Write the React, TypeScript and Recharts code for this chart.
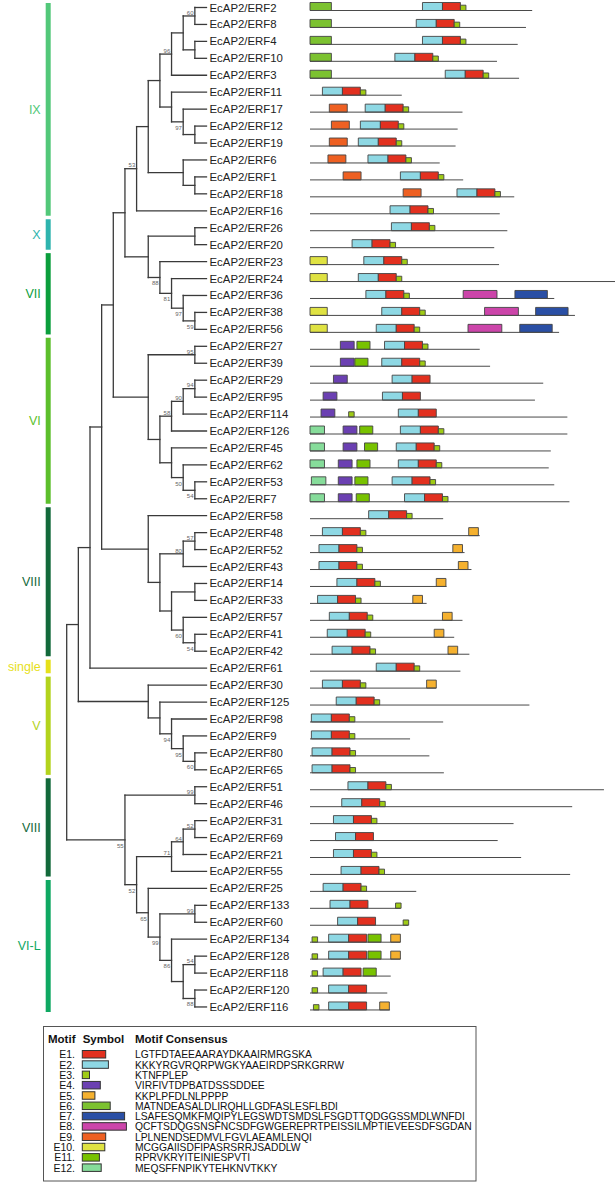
import React from 'react'
import { ComposedChart, XAxis, YAxis, ReferenceArea, ReferenceLine, Scatter } from 'recharts'

const PREFIX = 'EcAP2/'

// gene order, top to bottom
const GENES = [
  'ERF2', 'ERF8', 'ERF4', 'ERF10', 'ERF3', 'ERF11', 'ERF17', 'ERF12', 'ERF19', 'ERF6',
  'ERF1', 'ERF18', 'ERF16', 'ERF26', 'ERF20', 'ERF23', 'ERF24', 'ERF36', 'ERF38', 'ERF56',
  'ERF27', 'ERF39', 'ERF29', 'ERF95', 'ERF114', 'ERF126', 'ERF45', 'ERF62', 'ERF53', 'ERF7',
  'ERF58', 'ERF48', 'ERF52', 'ERF43', 'ERF14', 'ERF33', 'ERF57', 'ERF41', 'ERF42', 'ERF61',
  'ERF30', 'ERF125', 'ERF98', 'ERF9', 'ERF80', 'ERF65', 'ERF51', 'ERF46', 'ERF31', 'ERF69',
  'ERF21', 'ERF55', 'ERF25', 'ERF133', 'ERF60', 'ERF134', 'ERF128', 'ERF118', 'ERF120', 'ERF116',
]

// protein length (aa)
const PROTEIN_LENGTH = [
  322, 313, 301, 271, 303, 133, 221, 214, 211, 188,
  222, 296, 275, 286, 267, 274, 445, 354, 384, 361,
  246, 261, 338, 326, 373, 373, 349, 346, 354, 376,
  193, 246, 224, 234, 198, 169, 221, 209, 231, 218,
  183, 318, 193, 145, 173, 194, 426, 380, 295, 272,
  306, 377, 154, 131, 142, 131, 131, 117, 112, 116,
]

// motif hits per gene: [motif, start aa]
const MOTIF_SITES: Array<Array<[string, number]>> = [
  [['E6', 0], ['E2', 163], ['E1', 192], ['E3', 218]],
  [['E6', 0], ['E2', 154], ['E1', 183], ['E3', 209]],
  [['E6', 0], ['E2', 163], ['E1', 192], ['E3', 218]],
  [['E6', 0], ['E2', 123], ['E1', 152], ['E3', 178]],
  [['E6', 0], ['E2', 196], ['E1', 225], ['E3', 251]],
  [['E2', 18], ['E1', 47], ['E3', 73]],
  [['E9', 28], ['E2', 80], ['E1', 109], ['E3', 135]],
  [['E9', 31], ['E2', 73], ['E1', 102], ['E3', 128]],
  [['E9', 28], ['E2', 70], ['E1', 99], ['E3', 125]],
  [['E9', 26], ['E2', 84], ['E1', 113], ['E3', 139]],
  [['E9', 48], ['E2', 131], ['E1', 160], ['E3', 186]],
  [['E9', 135], ['E2', 213], ['E1', 242], ['E3', 268]],
  [['E2', 116], ['E1', 145], ['E3', 171]],
  [['E2', 118], ['E1', 147], ['E3', 173]],
  [['E2', 61], ['E1', 90], ['E3', 116]],
  [['E10', 0], ['E2', 78], ['E1', 107], ['E3', 133]],
  [['E10', 0], ['E2', 70], ['E1', 99], ['E3', 125]],
  [['E2', 81], ['E1', 110], ['E3', 136], ['E8', 222], ['E7', 297]],
  [['E10', 0], ['E2', 104], ['E1', 133], ['E3', 159], ['E8', 253], ['E7', 327]],
  [['E10', 0], ['E2', 96], ['E1', 125], ['E3', 151], ['E8', 229], ['E7', 304]],
  [['E4', 44], ['E11', 68], ['E2', 108], ['E1', 137], ['E3', 163]],
  [['E4', 44], ['E11', 65], ['E2', 104], ['E1', 133], ['E3', 159]],
  [['E4', 34], ['E2', 119], ['E1', 148]],
  [['E4', 19], ['E2', 105], ['E1', 134]],
  [['E4', 16], ['E3', 56], ['E2', 128], ['E1', 157]],
  [['E12', 0], ['E4', 48], ['E11', 72], ['E2', 131], ['E1', 160], ['E3', 186]],
  [['E12', 0], ['E4', 48], ['E11', 79], ['E2', 125], ['E1', 154], ['E3', 180]],
  [['E12', 0], ['E4', 41], ['E11', 68], ['E2', 128], ['E1', 157], ['E3', 183]],
  [['E12', 2], ['E4', 41], ['E11', 65], ['E2', 119], ['E1', 148], ['E3', 174]],
  [['E12', 0], ['E4', 41], ['E11', 67], ['E2', 137], ['E1', 166], ['E3', 192]],
  [['E2', 85], ['E1', 114], ['E3', 140]],
  [['E2', 18], ['E1', 47], ['E3', 73], ['E5', 230]],
  [['E2', 13], ['E1', 42], ['E3', 68], ['E5', 207]],
  [['E2', 13], ['E1', 42], ['E3', 68], ['E5', 215]],
  [['E2', 39], ['E1', 68], ['E3', 94], ['E5', 183]],
  [['E2', 11], ['E1', 40], ['E3', 66], ['E5', 149]],
  [['E2', 28], ['E1', 57], ['E3', 83], ['E5', 192]],
  [['E2', 25], ['E1', 54], ['E3', 80], ['E5', 180]],
  [['E2', 32], ['E1', 61], ['E3', 87], ['E5', 200]],
  [['E2', 96], ['E1', 125], ['E3', 151]],
  [['E2', 18], ['E1', 47], ['E3', 73], ['E5', 169]],
  [['E2', 38], ['E1', 67], ['E3', 93]],
  [['E2', 2], ['E1', 31], ['E3', 57]],
  [['E2', 2], ['E1', 31], ['E3', 57]],
  [['E2', 3], ['E1', 32], ['E3', 58]],
  [['E2', 3], ['E1', 32], ['E3', 58]],
  [['E2', 55], ['E1', 84], ['E3', 110]],
  [['E2', 46], ['E1', 75], ['E3', 101]],
  [['E2', 34], ['E1', 63], ['E3', 89]],
  [['E2', 37], ['E1', 66]],
  [['E2', 34], ['E1', 63], ['E3', 89]],
  [['E2', 45], ['E1', 74], ['E3', 100]],
  [['E2', 19], ['E1', 48], ['E3', 74]],
  [['E2', 29], ['E1', 58], ['E3', 124]],
  [['E2', 40], ['E1', 69], ['E3', 135]],
  [['E3', 3], ['E2', 27], ['E1', 56], ['E11', 84], ['E5', 117]],
  [['E3', 3], ['E2', 27], ['E1', 56], ['E11', 84], ['E5', 117]],
  [['E3', 3], ['E2', 19], ['E1', 48], ['E11', 77]],
  [['E3', 3], ['E2', 27], ['E1', 56]],
  [['E3', 5], ['E2', 27], ['E1', 56], ['E5', 101]],
]

const MOTIF_IDS = ['E1', 'E2', 'E3', 'E4', 'E5', 'E6', 'E7', 'E8', 'E9', 'E10', 'E11', 'E12']
const MOTIF_CONSENSUS = [
  'LGTFDTAEEAARAYDKAAIRMRGSKA',
  'KKKYRGVRQRPWGKYAAEIRDPSRKGRRW',
  'KTNFPLEP',
  'VIRFIVTDPBATDSSSDDEE',
  'KKPLPFDLNLPPPP',
  'MATNDEASALDLIRQHLLGDFASLESFLBDI',
  'LSAFESQMKFMQIPYLEGSWDTSMDSLFSGDTTQDGGSSMDLWNFDI',
  'QCFTSDQGSNSFNCSDFGWGEREPRTPEISSILMPTIEVEESDFSGDAN',
  'LPLNENDSEDMVLFGVLAEAMLENQI',
  'MCGGAIISDFIPASRSRRJSADDLW',
  'RPRVKRYITEINIESPVTI',
  'MEQSFFNPIKYTEHKNVTKKY',
]
const MOTIF_COLORS = [
  '#e2301f', '#8ed8e4', '#9fcb15', '#6b40b2', '#f5b12f', '#7cc230',
  '#2a4fa5', '#cc45aa', '#ee6022', '#dfe242', '#78c200', '#86dc9a',
]

// subfamily bars
const GROUP_NAMES = ['IX', 'X', 'VII', 'VI', 'VIII', 'single', 'V', 'VIII', 'VI-L']
const GROUP_FIRST = ['ERF2', 'ERF26', 'ERF23', 'ERF27', 'ERF58', 'ERF61', 'ERF30', 'ERF51', 'ERF25']
const GROUP_LAST = ['ERF16', 'ERF20', 'ERF56', 'ERF7', 'ERF42', 'ERF61', 'ERF65', 'ERF55', 'ERF116']
const GROUP_COLORS = ['#52c879', '#2eb4ae', '#0b9e3c', '#5cbf2c', '#12693a', '#e6e01a', '#b3d31d', '#12693a', '#0fa862']

// cladogram: node depth level, children, bootstrap, label above/below
interface TNode { level: number; kids: (TNode | string)[]; boot?: number; pos?: 'a' | 'b' }
const n = (level: number, kids: (TNode | string)[], boot?: number, pos?: 'a' | 'b'): TNode => ({ level, kids, boot, pos })
const TIP_LEVEL = 12

const TREE = n(0, [
  n(1, [
    n(2, [
      n(3, [
        n(4, [
          n(5, [
            n(6, [
              n(7, [
                n(8, [
                  n(9, [n(10, [n(11, ['ERF2', 'ERF8'], 60, 'a'), n(11, ['ERF4', 'ERF10'])]), 'ERF3'], 96, 'a'),
                  n(9, ['ERF11', n(10, ['ERF17', n(11, ['ERF12', 'ERF19'])], 97, 'b')]),
                ]),
                n(10, ['ERF6', n(11, ['ERF1', 'ERF18'])]),
              ]),
              'ERF16',
            ], 53, 'a'),
            n(7, [
              n(11, ['ERF26', 'ERF20']),
              n(8, ['ERF23', n(9, ['ERF24', n(10, ['ERF36', n(11, ['ERF38', 'ERF56'], 59, 'b')], 97, 'b')], 81, 'b')], 88, 'b'),
            ]),
          ]),
          n(7, [
            n(11, ['ERF27', 'ERF39'], 95, 'a'),
            n(8, [
              n(9, [n(10, [n(11, ['ERF29', 'ERF95'], 94, 'a'), 'ERF114'], 90, 'a'), 'ERF126'], 58, 'a'),
              n(9, ['ERF45', n(10, ['ERF62', n(11, ['ERF53', 'ERF7'], 54, 'b')], 50, 'b')]),
            ]),
          ]),
        ]),
        n(7, [
          'ERF58',
          n(8, [
            n(10, [n(11, ['ERF48', 'ERF52'], 57, 'a'), 'ERF43'], 80, 'a'),
            n(9, [n(11, ['ERF14', 'ERF33']), n(10, ['ERF57', n(11, ['ERF41', 'ERF42'], 54, 'b')], 60, 'b')]),
          ]),
        ]),
      ]),
      'ERF61',
    ]),
    n(7, ['ERF30', n(8, ['ERF125', n(9, ['ERF98', n(10, ['ERF9', n(11, ['ERF80', 'ERF65'], 60, 'b')], 95, 'b')], 94, 'b')])]),
  ]),
  n(5, [
    n(11, ['ERF51', 'ERF46'], 99, 'a'),
    n(6, [
      n(9, [n(10, [n(11, ['ERF31', 'ERF69'], 52, 'a'), 'ERF21'], 64, 'a'), 'ERF55'], 71, 'a'),
      n(7, [
        'ERF25',
        n(8, [
          n(11, ['ERF133', 'ERF60'], 99, 'a'),
          n(9, ['ERF134', n(10, [n(11, ['ERF128', 'ERF118'], 54, 'a'), n(11, ['ERF120', 'ERF116'], 88, 'b')])], 86, 'b'),
        ], 99, 'b'),
      ], 65, 'b'),
    ], 52, 'b'),
  ], 55, 'b'),
])

// layout
const W = 615
const H = 1182
const TREE_X0 = 66.7
const TREE_STEP = 11.65
const AA_X0 = 310
const AA_PX = 0.69
const ROW_Y0 = 7.5
const ROW_PX = 16.94
const FONT = '"Liberation Sans", Arial, Helvetica, sans-serif'

type Seg = { x1: number; y1: number; x2: number; y2: number }
const treeSegs: Seg[] = []
const boots: { x: number; y: number; boot: number; pos: 'a' | 'b' }[] = []

function layout(node: TNode | string): { level: number; y: number } {
  if (typeof node === 'string') return { level: TIP_LEVEL, y: GENES.indexOf(node) }
  const kids = node.kids.map(layout)
  const first = kids[0]
  const last = kids[kids.length - 1]
  const y = (first.y + last.y) / 2
  treeSegs.push({ x1: node.level, y1: first.y, x2: node.level, y2: last.y })
  kids.forEach((k) => treeSegs.push({ x1: node.level, y1: k.y, x2: k.level, y2: k.y }))
  if (node.boot) boots.push({ x: node.level, y, boot: node.boot, pos: node.pos || 'a' })
  return { level: node.level, y }
}
layout(TREE)

const labelData = GENES.map((g, i) => ({ x: TIP_LEVEL, y: i, name: PREFIX + g }))

const App: React.FC = () => {
  const base = 3 / ROW_PX

  return (
    <div style={{ position: 'absolute', left: 0, top: 0, width: W, height: H, background: '#fff', fontFamily: FONT }}>
      <ComposedChart width={W} height={H} margin={{ top: 0, right: 0, bottom: 0, left: 0 }}>
        <XAxis xAxisId="px" dataKey="x" type="number" domain={[0, W]} allowDataOverflow hide />
        <XAxis xAxisId="tree" dataKey="x" type="number" domain={[-TREE_X0 / TREE_STEP, (W - TREE_X0) / TREE_STEP]} allowDataOverflow hide />
        <XAxis xAxisId="aa" dataKey="x" type="number" domain={[-AA_X0 / AA_PX, (W - AA_X0) / AA_PX]} allowDataOverflow hide />
        <YAxis yAxisId="row" dataKey="y" type="number" domain={[-ROW_Y0 / ROW_PX, (H - ROW_Y0) / ROW_PX]} allowDataOverflow reversed hide />

        {/* subfamily bars */}
        {GROUP_NAMES.map((name, k) => (
          <ReferenceArea
            key={`grp-${k}`}
            xAxisId="px"
            yAxisId="row"
            x1={45.7}
            x2={50.7}
            y1={Math.max(GENES.indexOf(GROUP_FIRST[k]) - 0.5, -0.27)}
            y2={GENES.indexOf(GROUP_LAST[k]) + 0.3}
            fill={GROUP_COLORS[k]}
            fillOpacity={1}
            stroke="none"
            ifOverflow="visible"
            label={{ value: name, position: 'left', offset: 5, fill: GROUP_COLORS[k], fontSize: 12.5, fontFamily: FONT }}
          />
        ))}

        {/* tree branches */}
        {treeSegs.map((s, k) => (
          <ReferenceLine
            key={`br-${k}`}
            xAxisId="tree"
            yAxisId="row"
            segment={[{ x: s.x1, y: s.y1 }, { x: s.x2, y: s.y2 }]}
            stroke="#3a3a3a"
            strokeWidth={1.3}
            strokeLinecap="square"
            ifOverflow="visible"
          />
        ))}

        {/* protein backbones */}
        {PROTEIN_LENGTH.map((len, i) => (
          <ReferenceLine
            key={`prot-${i}`}
            xAxisId="aa"
            yAxisId="row"
            segment={[{ x: 0, y: i + base }, { x: len, y: i + base }]}
            stroke="#4a4a4a"
            strokeWidth={1}
            ifOverflow="visible"
          />
        ))}

        {/* motif boxes */}
        {MOTIF_SITES.flatMap((sites, i) =>
          sites.map(([id, start], j) => {
            const m = MOTIF_IDS.indexOf(id)
            const top = id === 'E3' ? i + (3 - 5.3) / ROW_PX : i - 5 / ROW_PX
            return (
              <ReferenceArea
                key={`m-${i}-${j}`}
                xAxisId="aa"
                yAxisId="row"
                x1={start}
                x2={start + MOTIF_CONSENSUS[m].length}
                y1={top}
                y2={i + base}
                fill={MOTIF_COLORS[m]}
                fillOpacity={1}
                stroke="#444"
                strokeWidth={0.9}
                ifOverflow="visible"
              />
            )
          })
        )}

        <Scatter
          xAxisId="tree"
          yAxisId="row"
          data={labelData}
          isAnimationActive={false}
          shape={(p: any) => (
            <text x={p.cx + 3} y={p.cy + 4} fontSize={11.4} fill="#222" fontFamily={FONT}>
              {p.payload.name}
            </text>
          )}
        />
        <Scatter
          xAxisId="tree"
          yAxisId="row"
          data={boots}
          isAnimationActive={false}
          shape={(p: any) => (
            <text
              x={p.cx - 1.3}
              y={p.payload.pos === 'a' ? p.cy - 1.2 : p.cy + 8}
              fontSize={6}
              fill="#666"
              textAnchor="end"
              fontFamily={FONT}
            >
              {p.payload.boot}
            </text>
          )}
        />
      </ComposedChart>

      {/* motif legend */}
      <svg width={W} height={H} style={{ position: 'absolute', left: 0, top: 0, pointerEvents: 'none' }}>
        <rect x={43.5} y={1026.5} width={432.5} height={154.5} fill="none" stroke="#555" strokeWidth={1} />
        <g fontFamily={FONT} fill="#111">
          <text x={48} y={1042.7} fontSize={11.5} fontWeight="bold">Motif</text>
          <text x={82.7} y={1042.7} fontSize={11.5} fontWeight="bold">Symbol</text>
          <text x={135} y={1042.7} fontSize={11.5} fontWeight="bold">Motif Consensus</text>
          {MOTIF_IDS.map((id, k) => {
            const yb = 1058.3 + k * 10.31
            return (
              <g key={id}>
                <text x={75} y={yb} fontSize={10.5} textAnchor="end">{id}.</text>
                <rect
                  x={82.3}
                  y={yb - 7.8}
                  width={MOTIF_CONSENSUS[k].length * 0.9}
                  height={7.5}
                  fill={MOTIF_COLORS[k]}
                  stroke="#333"
                  strokeWidth={1}
                />
                <text x={135} y={yb} fontSize={10.3}>{MOTIF_CONSENSUS[k]}</text>
              </g>
            )
          })}
        </g>
      </svg>
    </div>
  )
}

export default App
